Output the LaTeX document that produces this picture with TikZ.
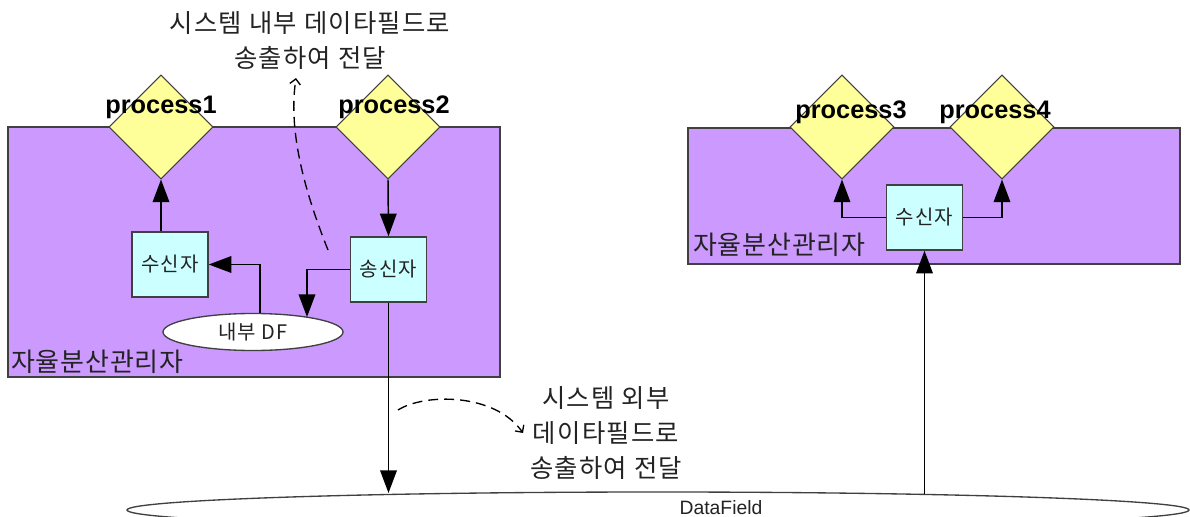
\documentclass[tikz,border=0pt]{standalone}
\usepackage{fontspec}
\setmainfont{Liberation Sans}
\newfontfamily\krA[LetterSpace=5]{Noto Sans CJK KR}
\newfontfamily\krB[LetterSpace=3]{Noto Sans CJK KR}
\newfontfamily\krC[LetterSpace=6]{Noto Sans CJK KR}
\usetikzlibrary{shapes.geometric,arrows.meta,fit}
\definecolor{mgrfill}{RGB}{204,153,255}
\definecolor{procfill}{RGB}{255,255,153}
\definecolor{boxfill}{RGB}{204,255,255}
\definecolor{edge}{RGB}{64,64,64}
\definecolor{txt}{RGB}{35,35,35}
\tikzset{
  mgr/.style={draw=edge, line width=1.1pt, fill=mgrfill, inner sep=0pt},
  proc/.style={diamond, aspect=1, draw=edge, line width=0.8pt, fill=procfill, minimum width=78pt, minimum height=78pt, inner sep=0pt},
  plabel/.style={font=\fontsize{19}{22}\selectfont\bfseries, text=black, inner sep=0pt},
  agent/.style={draw=edge, line width=1.1pt, fill=boxfill, minimum width=57pt, minimum height=48.75pt, inner sep=0pt, font=\krC\fontsize{15}{17}\selectfont, text=txt},
  dfell/.style={ellipse, draw=edge, line width=1pt, fill=white, inner sep=0pt},
  arr/.style={line width=1.1pt, draw=black, -{Triangle[length=17pt,width=12.5pt]}},
  dsh/.style={line width=1pt, draw=black, dash pattern=on 7.5pt off 4.5pt, -{Straight Barb[length=4pt,width=8pt]}},
  note/.style={align=center, font=\krA\fontsize{19}{26.25}\selectfont, text=txt, inner sep=0pt},
  mgrlabel/.style={font=\krB\fontsize{19.5}{21}\selectfont, text=txt, inner sep=0pt, anchor=west}
}
\begin{document}
\begin{tikzpicture}[x=0.75pt,y=-0.75pt]
\path[use as bounding box, clip] (0,0) rectangle (1190,517);
\fill[white] (0,0) rectangle (1190,517);
% managers
\node[mgr, fit={(8,127) (500,377)}] (mgr1) {};
\node[mgr, fit={(688,128) (1180,264)}] (mgr2) {};
% processes
\node[proc] (p1) at (161,127) {};
\node[proc] (p2) at (388,127) {};
\node[proc] (p3) at (842,127) {};
\node[proc] (p4) at (1002,127) {};
\node[plabel] (p1l) at (161,107) {process1};
\node[plabel] (p2l) at (394,107) {process2};
\node[plabel] (p3l) at (851,112) {process3};
\node[plabel] (p4l) at (995,112) {process4};
% agents
\node[agent] (recv1) at (170,264.5) {수신자};
\node[agent] (send1) at (388.5,269.5) {송신자};
\node[agent] (recv2) at (924.5,217.5) {수신자};
\node[dfell, minimum width=135pt, minimum height=27.75pt, font=\krC\fontsize{15}{17}\selectfont, text=txt] (idf) at (253,332) {내부 DF};
\node[mgrlabel] (m1l) at (11,362) {자율분산관리자};
\node[mgrlabel] (m2l) at (693,245) {자율분산관리자};
% data field
\node[dfell, minimum width=796.5pt, minimum height=27pt] (df) at (658,510) {};
\node[font=\fontsize{14.5}{16}\selectfont, text=txt, inner sep=0pt] (dft) at (721,508) {DataField};
% connector ends
\coordinate (idfin) at (307,317);
\coordinate (dfa) at (388.5,493);
\coordinate (dfb) at (924.5,494);
% connectors
\draw[arr] (p1.south |- recv1.north) -- (p1.south);
\draw[arr] (p2.south) -- (send1.north);
\draw[arr] ([xshift=5.25pt]idf.north) |- (recv1.east);
\draw[arr] (send1.west) -| (idfin);
\draw[arr] (send1.south) -- (dfa);
\draw[arr] (dfb) -- (recv2.south);
\draw[arr] (recv2.west) -| (p3.south);
\draw[arr] (recv2.east) -| (p4.south);
% dashed notes
\coordinate (dA) at (328,250);
\coordinate (dA2) at (296,78);
\draw[dsh] (dA) .. controls (300,180) and (289,125) .. (dA2);
\coordinate (dB) at (398,410);
\coordinate (dB2) at (523,433);
\draw[dsh] (dB) .. controls (425,393) and (495,393) .. (dB2);
\node[note] (n1) at (310,41) {시스템 내부 데이타필드로\\송출하여 전달};
\node[note] (n2) at (606,433) {시스템 외부\\데이타필드로\\송출하여 전달};
\end{tikzpicture}
\end{document}
